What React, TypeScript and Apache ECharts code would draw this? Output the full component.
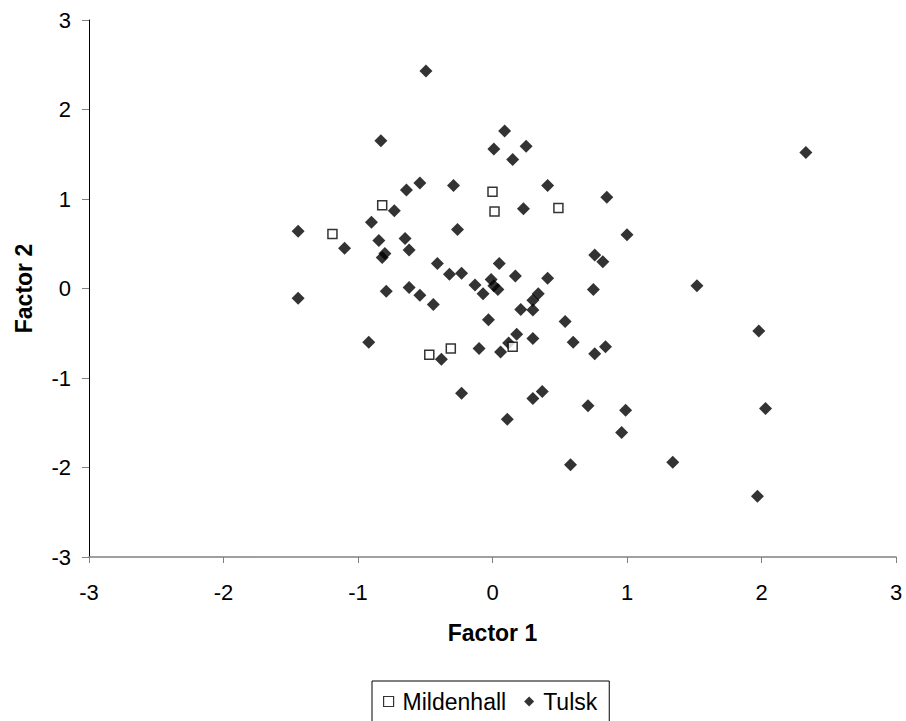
import React, { useEffect, useRef } from "react";
import * as echarts from "echarts";

const seriesNames = ["Mildenhall", "Tulsk"];
const xTicks = [-3, -2, -1, 0, 1, 2, 3];
const yTicks = [-3, -2, -1, 0, 1, 2, 3];
const xAxisTitle = "Factor 1";
const yAxisTitle = "Factor 2";

const mildenhall: [number, number][] = [
  [-1.19, 0.61],
  [-0.82, 0.93],
  [0.0, 1.08],
  [0.015, 0.86],
  [0.49, 0.9],
  [-0.47, -0.74],
  [-0.31, -0.67],
  [0.15, -0.65],
];

const tulsk: [number, number][] = [
  [-0.495, 2.43], [-0.83, 1.65], [0.09, 1.76], [0.01, 1.56], [0.25, 1.59],
  [0.15, 1.44], [-0.54, 1.18], [-0.64, 1.1], [-0.29, 1.15], [0.41, 1.15],
  [0.23, 0.89], [-0.73, 0.87], [-0.9, 0.74], [-1.445, 0.64], [-0.26, 0.66],
  [-1.1, 0.45], [-0.845, 0.535], [-0.65, 0.56], [-0.62, 0.43], [-0.8, 0.39],
  [-0.82, 0.345], [-0.41, 0.28], [-0.32, 0.16], [-0.23, 0.17], [0.05, 0.28],
  [0.17, 0.14], [0.41, 0.115], [-0.13, 0.04], [-0.01, 0.1], [0.01, 0.03],
  [0.04, -0.01], [-0.07, -0.06], [0.34, -0.06], [0.3, -0.13], [0.21, -0.235],
  [0.3, -0.24], [-0.03, -0.35], [-0.79, -0.03], [-0.62, 0.01], [-0.54, -0.075],
  [-0.44, -0.18], [-1.445, -0.11], [0.54, -0.37], [0.18, -0.51], [0.3, -0.56],
  [0.6, -0.6], [-0.92, -0.6], [0.12, -0.61], [0.06, -0.71], [-0.1, -0.67],
  [-0.38, -0.79], [-0.23, -1.17], [0.37, -1.15], [0.3, -1.23], [0.11, -1.46],
  [0.58, -1.97], [2.33, 1.52], [0.85, 1.02], [1.0, 0.6], [0.76, 0.375],
  [0.82, 0.3], [0.75, -0.01], [1.52, 0.03], [0.84, -0.65], [0.76, -0.73],
  [1.98, -0.475], [0.71, -1.31], [0.99, -1.36], [2.03, -1.34], [0.96, -1.61],
  [1.34, -1.94], [1.97, -2.32],
];

const FONT = "'Liberation Sans', Arial, sans-serif";

export default function App() {
  const ref = useRef<HTMLDivElement>(null);
  useEffect(() => {
    if (!ref.current) return;
    const chart = echarts.init(ref.current, undefined, { renderer: "svg" });
    chart.setOption({
      animation: false,
      backgroundColor: "#fff",
      textStyle: { fontFamily: FONT, color: "#000" },
      grid: { left: 89, right: 10, top: 20, bottom: 164, containLabel: false },
      legend: {
        data: [
          { name: seriesNames[0], icon: "rect", itemStyle: { color: "#fff", borderColor: "#000", borderWidth: 1.2 } },
          { name: seriesNames[1], icon: "diamond", itemStyle: { color: "#000" } },
        ],
        left: 372,
        top: 681,
        orient: "horizontal",
        itemWidth: 10,
        itemHeight: 10,
        itemGap: 18,
        padding: [9, 12, 9, 11],
        borderColor: "#000",
        borderWidth: 1,
        backgroundColor: "#fff",
        textStyle: { fontFamily: FONT, fontSize: 23, color: "#000", padding: [0, 0, 0, 4] },
      },
      xAxis: {
        type: "value",
        min: xTicks[0],
        max: xTicks[xTicks.length - 1],
        interval: 1,
        name: xAxisTitle,
        nameLocation: "middle",
        nameGap: 64,
        nameTextStyle: { fontFamily: FONT, fontSize: 23, fontWeight: "bold", color: "#000" },
        axisLine: { onZero: false, lineStyle: { color: "#808080", width: 1.5 } },
        axisTick: { show: true, length: 6, lineStyle: { color: "#808080" } },
        axisLabel: { fontFamily: FONT, fontSize: 22, color: "#000", margin: 24 },
        splitLine: { show: false },
      },
      yAxis: {
        type: "value",
        min: yTicks[0],
        max: yTicks[yTicks.length - 1],
        interval: 1,
        name: yAxisTitle,
        nameLocation: "middle",
        nameGap: 54,
        nameTextStyle: { fontFamily: FONT, fontSize: 23, fontWeight: "bold", color: "#000" },
        axisLine: { onZero: false, lineStyle: { color: "#000", width: 1 } },
        axisTick: { show: true, length: 7, lineStyle: { color: "#808080" } },
        axisLabel: { fontFamily: FONT, fontSize: 22, color: "#000", margin: 18 },
        splitLine: { show: false },
      },
      series: [
        {
          name: seriesNames[0],
          type: "scatter",
          symbol: "rect",
          symbolSize: 9,
          z: 3,
          itemStyle: { color: "#fff", borderColor: "#000", borderWidth: 1.5 },
          data: mildenhall,
        },
        {
          name: seriesNames[1],
          type: "scatter",
          symbol: "diamond",
          symbolSize: 13,
          z: 2,
          itemStyle: { color: "#000" },
          data: tulsk,
        },
      ],
    });
    return () => chart.dispose();
  }, []);
  return (
    <div
      ref={ref}
      style={{ position: "fixed", left: 0, top: 0, width: 906, height: 721, background: "#fff" }}
    />
  );
}
